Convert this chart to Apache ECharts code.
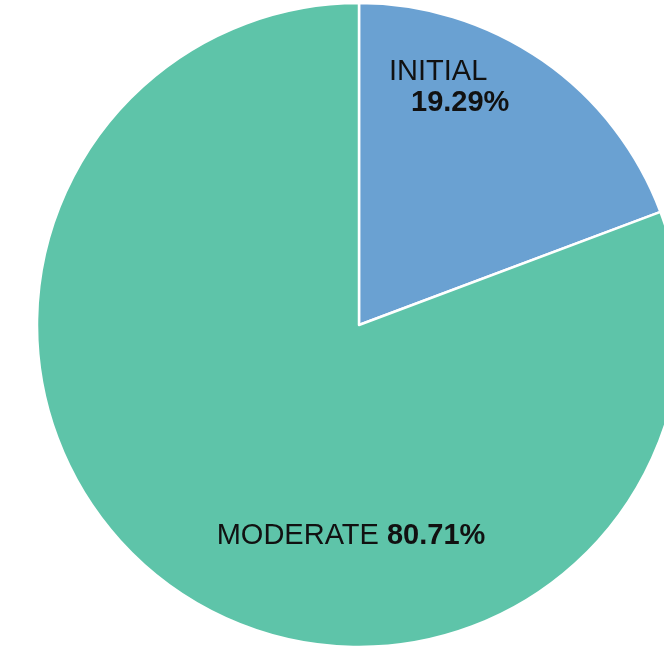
<!DOCTYPE html>
<html>
<head>
<meta charset="utf-8">
<script src="https://cdn.jsdelivr.net/npm/echarts@6/dist/echarts.min.js"></script>
<style>
html, body { margin: 0; padding: 0; background: #fff; }
#chart { width: 664px; height: 647px; }
</style>
</head>
<body>
<div id="chart"></div>
<script>
var names = ['INITIAL', 'MODERATE'];
var values = [19.29, 80.71];
var colors = ['#6aa1d2', '#5ec4a9'];

var dom = document.getElementById('chart');
var myChart = echarts.init(dom);

var pieData = [];
for (let i = 0; i < names.length; i++) {
    pieData.push({ name: names[i], value: values[i], itemStyle: { color: colors[i] } });
}

// label spots
var labelSpots = [
    { x: 389, y: 56, align: 'left', verticalAlign: 'top' },
    { x: 351, y: 536, align: 'center', verticalAlign: 'middle' }
];

var font = 'Liberation Sans, Arial, sans-serif';

option = {
    backgroundColor: '#ffffff',
    animation: false,
    series: [{
        type: 'pie',
        center: [359, 325],
        radius: [0, 322],
        startAngle: 90,
        clockwise: true,
        data: pieData,
        itemStyle: { borderColor: '#ffffff', borderWidth: 2.5 },
        label: {
            show: true,
            position: 'inside',
            fontFamily: font,
            fontSize: 29,
            color: '#111',
            formatter: function (p) {
                var pct = p.value.toFixed(2) + '%';
                if (p.dataIndex === 0) {
                    return '{n|' + p.name + '}\n{v|' + pct + '}';
                }
                return '{n|' + p.name + ' }{b|' + pct + '}';
            },
            rich: {
                n: { fontSize: 29, color: '#111', fontFamily: font, lineHeight: 31 },
                v: { fontSize: 29, fontWeight: 'bold', color: '#111', fontFamily: font, lineHeight: 31, padding: [0, 0, 0, 22] },
                b: { fontSize: 29, fontWeight: 'bold', color: '#111', fontFamily: font, lineHeight: 31 }
            }
        },
        labelLine: { show: false },
        labelLayout: function (params) {
            return labelSpots[params.dataIndex];
        }
    }]
};

myChart.setOption(option, true);
</script>
</body>
</html>
